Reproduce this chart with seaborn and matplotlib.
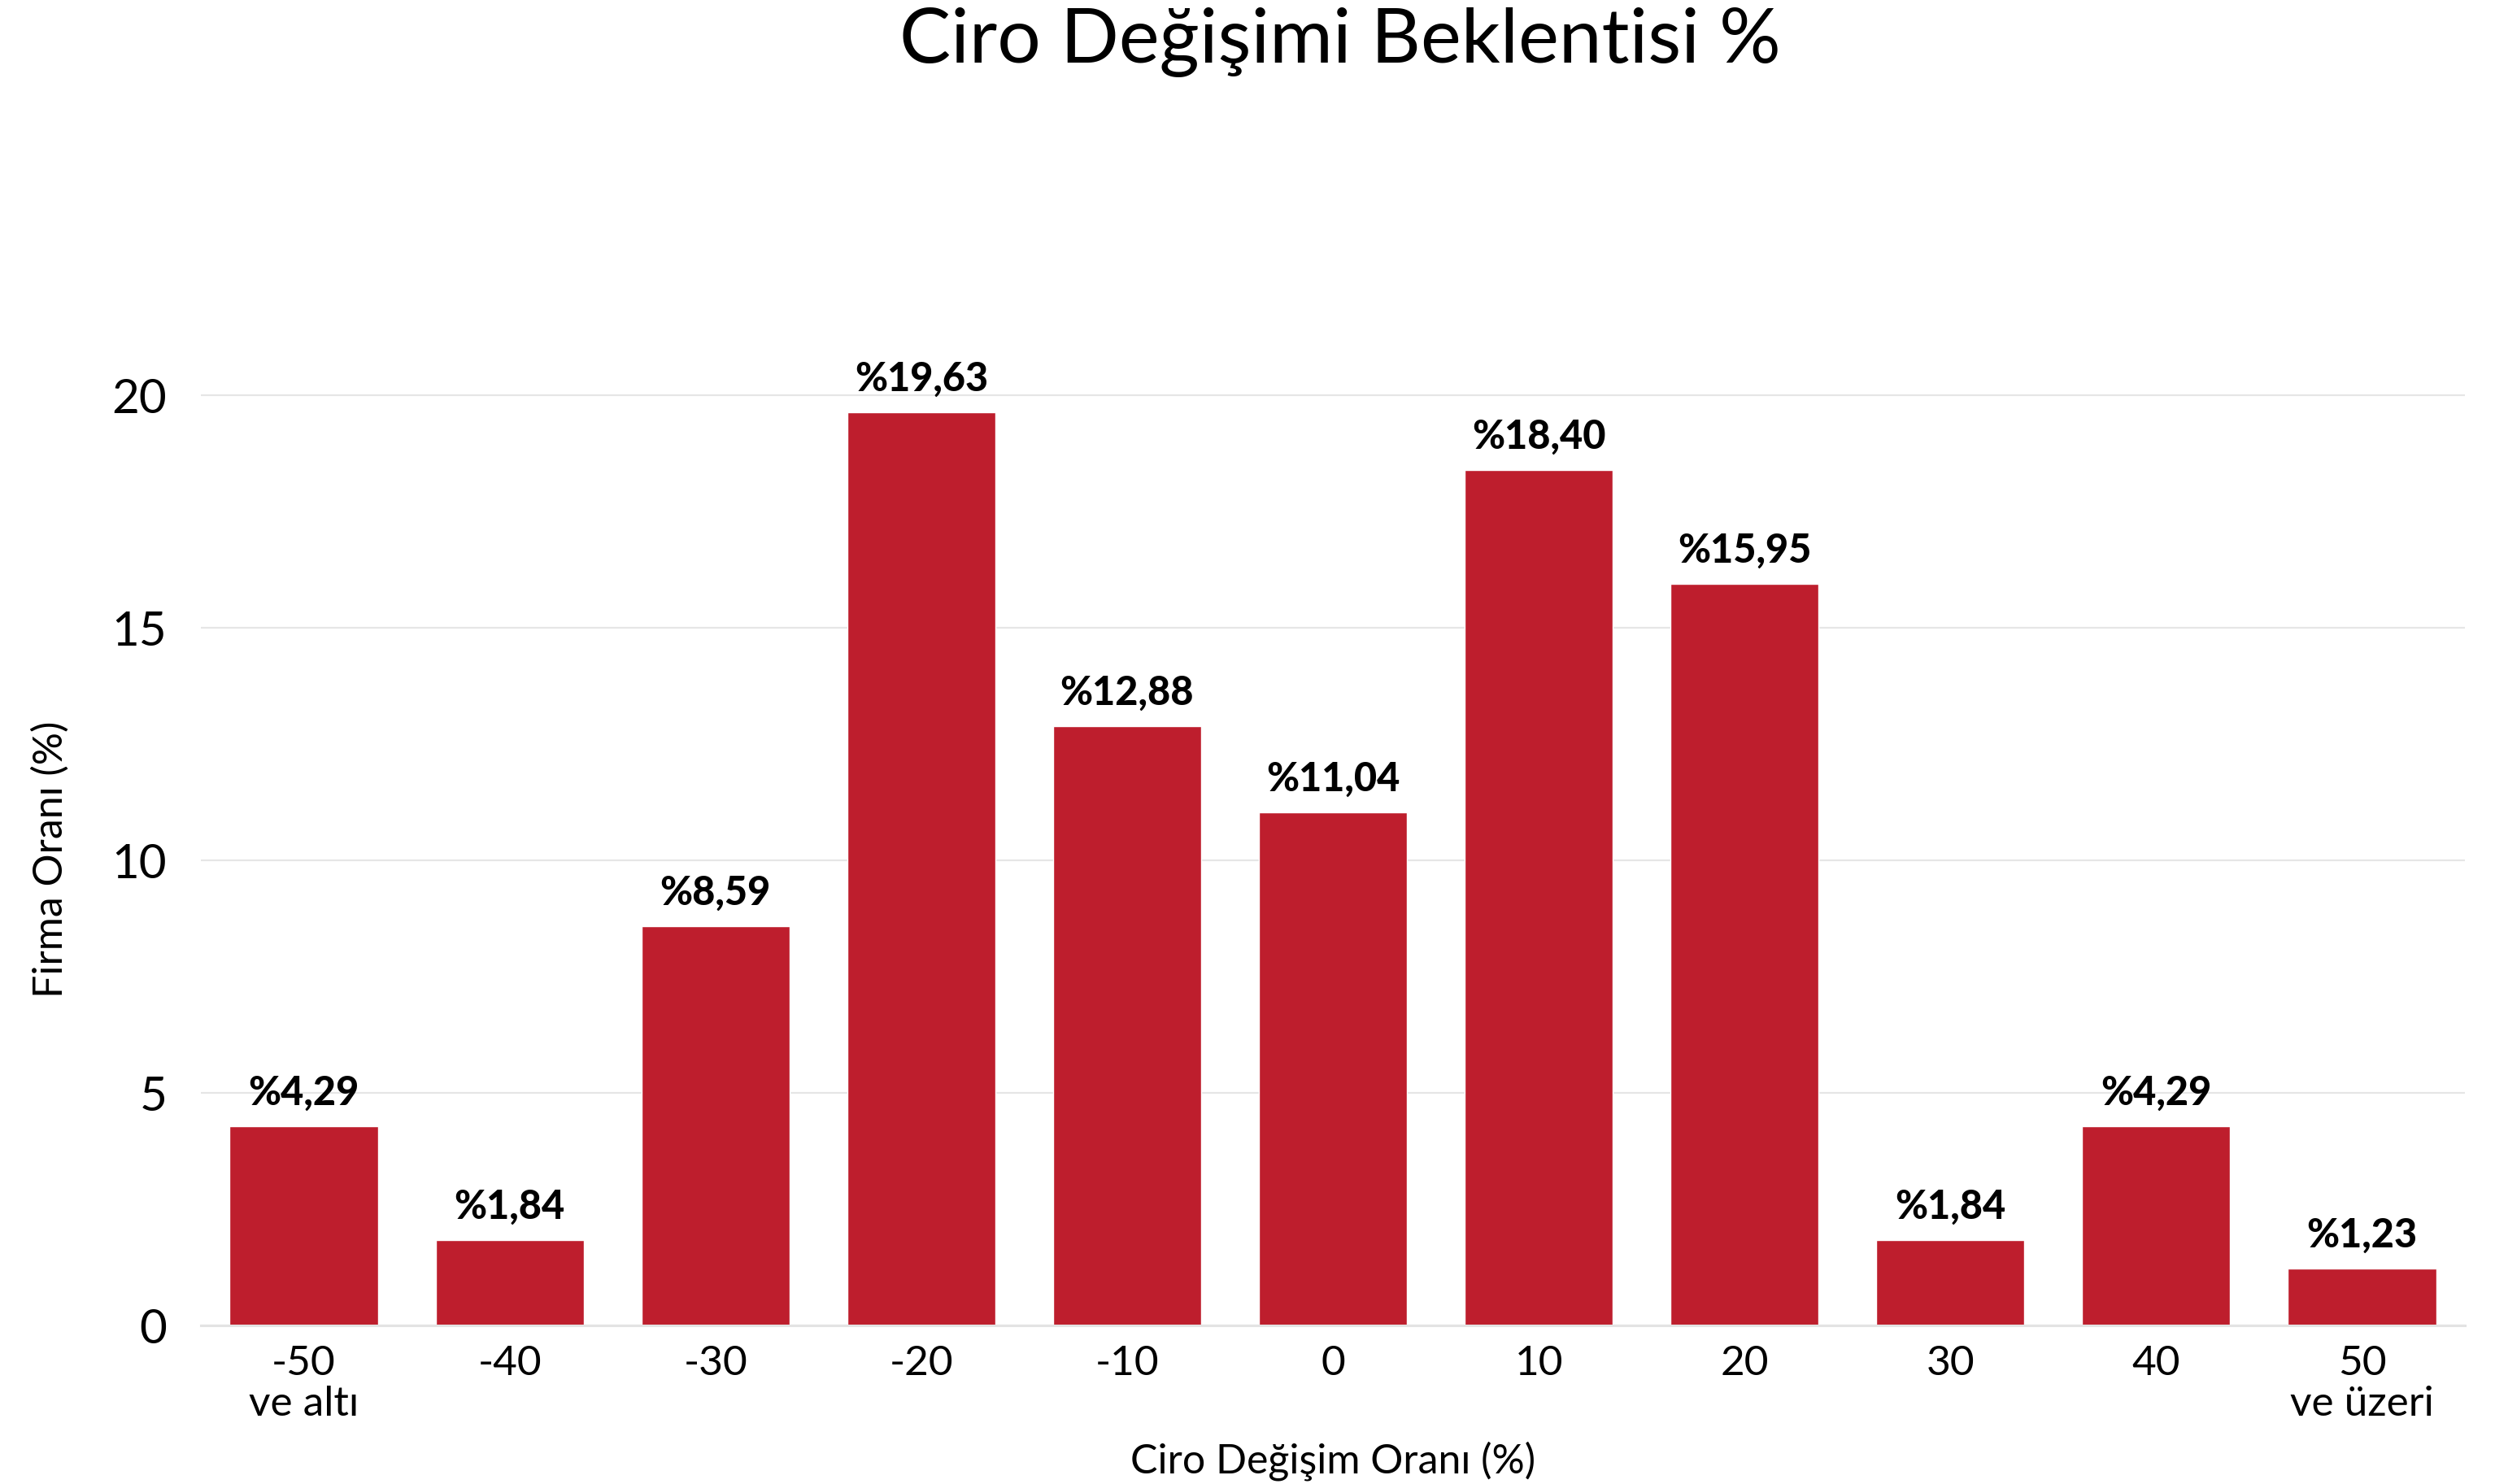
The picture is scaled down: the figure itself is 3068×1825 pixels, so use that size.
import matplotlib
matplotlib.use("Agg")
import matplotlib.pyplot as plt
import seaborn as sns
import numpy as np

categories = ["-50\nve altı", "-40", "-30", "-20", "-10", "0", "10", "20", "30", "40", "50\nve üzeri"]
values = [4.29, 1.84, 8.59, 19.63, 12.88, 11.04, 18.40, 15.95, 1.84, 4.29, 1.23]
value_labels = ["%4,29", "%1,84", "%8,59", "%19,63", "%12,88", "%11,04", "%18,40", "%15,95", "%1,84", "%4,29", "%1,23"]
yticks = [0, 5, 10, 15, 20]
title = "Ciro Değişimi Beklentisi %"
xlabel = "Ciro Değişim Oranı (%)"
ylabel = "Firma Oranı (%)"

sns.set_theme(style="white")
plt.rcParams["font.family"] = ["Lato", "DejaVu Sans"]

W, H, DPI = 3068, 1825, 100
fig = plt.figure(figsize=(W / DPI, H / DPI), dpi=DPI)
ymax = 22
px_per_unit = 57.2
bottom_px = 1630
top_px = bottom_px - ymax * px_per_unit
left_px, right_px = 247, 3031
ax = fig.add_axes([left_px / W, 1 - bottom_px / H, (right_px - left_px) / W, (bottom_px - top_px) / H])

bar_color = "#BE1E2D"
sns.barplot(x=categories, y=values, color=bar_color, saturation=1, width=0.72, ax=ax)

ax.set_xlim(-0.5, len(categories) - 0.5)
ax.set_ylim(0, ymax)
ax.set_yticks(yticks)
ax.yaxis.grid(True, color="#e6e6e6", linewidth=1.6)
ax.xaxis.grid(False)
ax.set_axisbelow(True)

for s in ["top", "right", "left"]:
    ax.spines[s].set_visible(False)
ax.spines["bottom"].set_color("#e3e3e3")
ax.spines["bottom"].set_linewidth(2.2)

ax.tick_params(axis="y", length=0, pad=30, labelsize=42, labelcolor="black")
ax.tick_params(axis="x", which="major", length=0, pad=17, labelsize=37, labelcolor="black")
ax.set_xticks(np.arange(-0.5, len(categories), 1.0), minor=True)
ax.tick_params(axis="x", which="minor", direction="in", length=21, width=1.4, color="#e3e3e3")
for lbl in ax.get_xticklabels():
    lbl.set_linespacing(1.12)

ax.bar_label(ax.containers[0], labels=value_labels, padding=13, fontsize=35,
             fontweight=900, color="black", clip_on=False)

ax.set_xlabel(xlabel, fontsize=36, labelpad=16, color="black")
ax.set_ylabel(ylabel, fontsize=36, labelpad=0, color="black")
ax.yaxis.set_label_coords((86 - left_px) / (right_px - left_px), (bottom_px - 1057) / (bottom_px - top_px))

fig.text(1648 / W, 1 - 52 / H, title, ha="center", va="center", fontsize=68,
         fontweight="normal", color="black")

fig.savefig("out.png", dpi=DPI, facecolor="white")
